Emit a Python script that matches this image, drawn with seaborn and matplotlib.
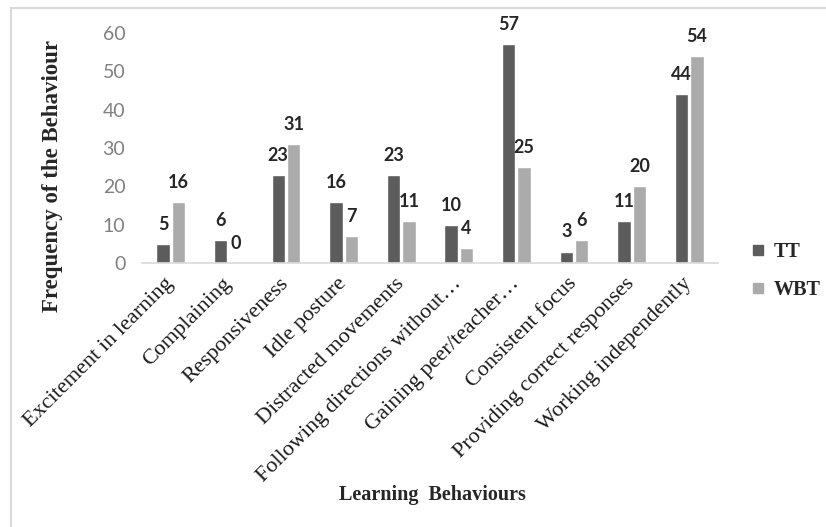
import matplotlib
matplotlib.use("Agg")
import matplotlib.pyplot as plt
import seaborn as sns
import pandas as pd
from matplotlib.lines import Line2D
from matplotlib.patches import Rectangle

categories = ["Excitement in learning", "Complaining", "Responsiveness", "Idle posture",
              "Distracted movements", "Following directions without…", "Gaining peer/teacher…",
              "Consistent focus", "Providing correct responses", "Working independently"]
tt_values = [5, 6, 23, 16, 23, 10, 57, 3, 11, 44]
wbt_values = [16, 0, 31, 7, 11, 4, 25, 6, 20, 54]
series = ["TT", "WBT"]
colors = ["#5c5c5c", "#ababab"]
y_ticks = [0, 10, 20, 30, 40, 50, 60]

df = pd.DataFrame({
    "Behaviour": categories * 2,
    "Group": [series[0]] * len(categories) + [series[1]] * len(categories),
    "Value": tt_values + wbt_values,
})

sns.set_theme(style="white")
serif = "Liberation Serif"
sans = "Lato"

fig = plt.figure(figsize=(8.26, 5.27), dpi=100)
ax = fig.add_axes([142 / 826, 1 - 263 / 527, (718 - 142) / 826, (263 - 33) / 527])

sns.barplot(data=df, x="Behaviour", y="Value", hue="Group", palette=colors,
            width=0.54, gap=0.14, ax=ax, legend=False, saturation=1)

for cont in ax.containers:
    ax.bar_label(cont, padding=8, fontsize=13, fontweight="bold",
                 family=sans, color="#262626")

ax.set_ylim(0, 60)
ax.set_yticks(y_ticks)
ax.set_xlim(-0.5, len(categories) - 0.5)
ax.tick_params(axis="y", length=0, pad=12, labelsize=14, labelcolor="#808080")
for t in ax.get_yticklabels():
    t.set_family(sans)
ax.tick_params(axis="x", length=0, pad=13)
ax.set_xticks(range(len(categories)))
ax.set_xticklabels(categories, rotation=45, ha="right", va="center",
                   rotation_mode="anchor", fontsize=16, family=serif, color="#1a1a1a")

for s in ["top", "right", "left"]:
    ax.spines[s].set_visible(False)
ax.spines["bottom"].set_color("#d9d9d9")
ax.spines["bottom"].set_linewidth(1.2)

ax.set_xlabel("")
ax.set_ylabel("")
fig.text(53 / 826, 1 - 176 / 527, "Frequency of the Behaviour", rotation=90,
         ha="center", va="center", fontsize=16.5, fontweight="bold", family=serif)
fig.text(432 / 826, 1 - 495 / 527, "Learning  Behaviours", ha="center", va="center",
         fontsize=14.5, fontweight="bold", family=serif)

handles = [Line2D([], [], marker="s", linestyle="none", markersize=7,
                  markerfacecolor=c, markeredgecolor=c) for c in colors]
leg = fig.legend(handles, series, loc="center left", bbox_to_anchor=(748 / 826, 1 - 271 / 527),
                 frameon=False, handletextpad=0.3, labelspacing=0.9, handlelength=1.0,
                 borderpad=0, borderaxespad=0,
                 prop={"family": serif, "weight": "bold", "size": 14.5})

fig.patches.append(Rectangle((11 / 826, -0.1), 1.2, 1 - 8 / 527 + 0.1, transform=fig.transFigure,
                             fill=False, edgecolor="#d9d9d9", linewidth=1.5))

fig.savefig("out.png", dpi=100)
